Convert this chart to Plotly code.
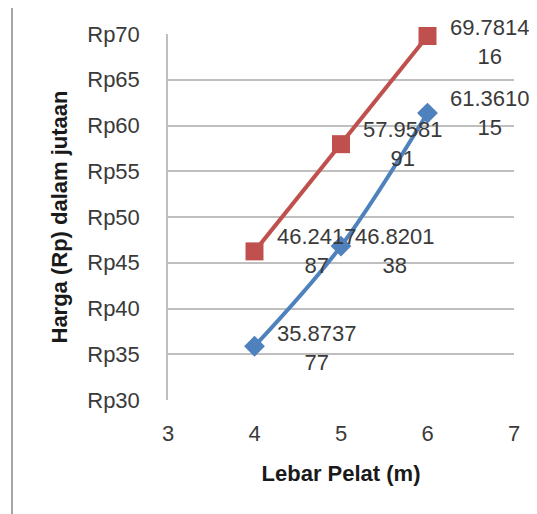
import plotly.graph_objects as go

x_vals = [4, 5, 6]
red_vals = [46.241787, 57.958191, 69.781416]
blue_vals = [35.873777, 46.820138, 61.361015]
y_tick_vals = [30, 35, 40, 45, 50, 55, 60, 65, 70]
y_tick_text = ["Rp" + str(v) for v in y_tick_vals]
x_tick_vals = [3, 4, 5, 6, 7]

RED = "#C0504D"
BLUE = "#4F81BD"
FONT = "Liberation Sans"


def label(v):
    s = f"{v:.6f}"
    return s[:7] + "<br>" + s[7:]


fig = go.Figure()
fig.add_trace(go.Scatter(
    x=x_vals, y=blue_vals, mode="lines+markers",
    line=dict(color=BLUE, width=4, shape="spline"),
    marker=dict(symbol="diamond", size=16, color=BLUE),
    showlegend=False, cliponaxis=False,
))
fig.add_trace(go.Scatter(
    x=x_vals, y=red_vals, mode="lines+markers",
    line=dict(color=RED, width=4),
    marker=dict(symbol="square", size=18, color=RED),
    showlegend=False, cliponaxis=False,
))

annotations = []
red_dy = [0, 0, -6]
for xv, yv, dy in zip(x_vals, red_vals, red_dy):
    annotations.append(dict(x=xv, y=yv, text=label(yv), showarrow=False,
                            xanchor="left", yanchor="middle", align="center",
                            xshift=20, yshift=dy,
                            font=dict(family=FONT, size=22, color="#3a3a3a")))
blue_dx = [20, 12, 20]
blue_dy = [-2, -5, 0]
for xv, yv, dx, dy in zip(x_vals, blue_vals, blue_dx, blue_dy):
    annotations.append(dict(x=xv, y=yv, text=label(yv), showarrow=False,
                            xanchor="left", yanchor="middle", align="center",
                            xshift=dx, yshift=dy,
                            font=dict(family=FONT, size=22, color="#3a3a3a")))

# page body offset of 8px -> figure coordinates
OFF = 8
px_l, px_r, px_t, px_b = 168 - OFF, 514 - OFF, 34 - OFF, 400 - OFF
def to_px(x):
    return (x - OFF - px_l) / (px_r - px_l)
def to_py(y):
    return (px_b - (y - OFF)) / (px_b - px_t)

shapes = [
    dict(type="line", xref="paper", yref="paper", x0=to_px(12), x1=to_px(12),
         y0=to_py(6), y1=to_py(530), line=dict(color="#A6A6A6", width=2)),
    dict(type="line", xref="paper", yref="paper", x0=to_px(12), x1=to_px(550),
         y0=to_py(6), y1=to_py(6), line=dict(color="#A6A6A6", width=2)),
]

fig.update_layout(
    width=537, height=514,
    margin=dict(l=px_l, r=537 - px_r, t=px_t, b=514 - px_b),
    paper_bgcolor="white", plot_bgcolor="white",
    font=dict(family=FONT, size=22, color="#3a3a3a"),
    annotations=annotations,
    shapes=shapes,
    xaxis=dict(range=[3, 7], tickvals=x_tick_vals, showgrid=False,
               zeroline=False, showline=False, ticks="", automargin=False,
               ticklabelstandoff=18, tickfont=dict(size=22),
               title=dict(text="<b>Lebar Pelat (m)</b>", standoff=20,
                          font=dict(family=FONT, size=22, color="#1a1a1a"))),
    yaxis=dict(range=[30, 70], tickvals=y_tick_vals, ticktext=y_tick_text,
               showgrid=True, gridcolor="#BFBFBF", gridwidth=1.5, automargin=False,
               zeroline=False, showline=True, linecolor="#BFBFBF", linewidth=1.5,
               ticks="", ticklabelstandoff=22, tickfont=dict(size=22),
               title=dict(text="<b>Harga (Rp) dalam jutaan</b>", standoff=14,
                          font=dict(family=FONT, size=22, color="#1a1a1a"))),
)

fig.write_html("out.html")
